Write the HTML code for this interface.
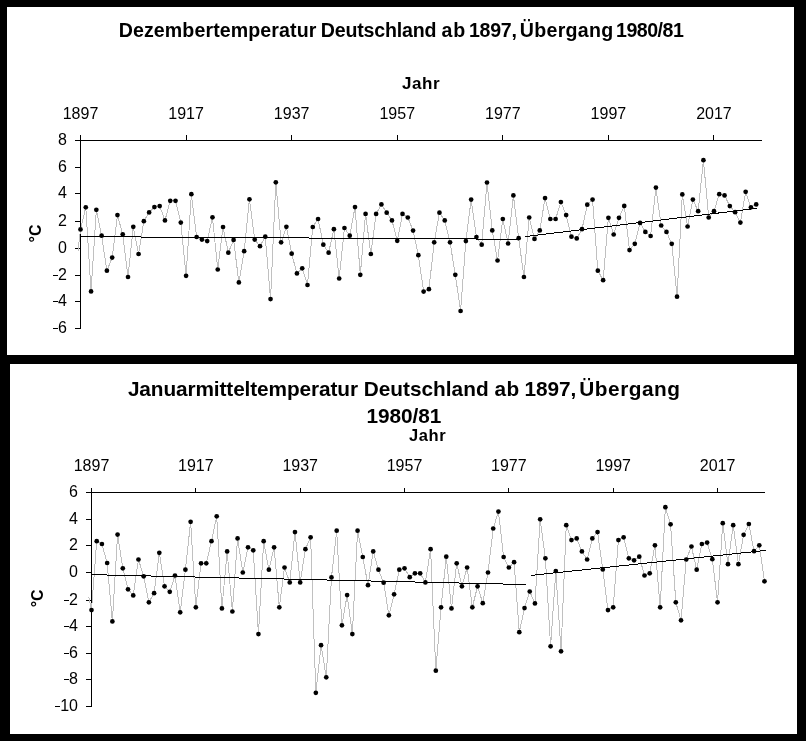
<!DOCTYPE html>
<html><head><meta charset="utf-8"><style>
html,body{margin:0;padding:0;background:#000;}
body{width:806px;height:741px;overflow:hidden;position:relative;}
svg{position:absolute;left:0;top:0;will-change:transform;}
text{font-family:"Liberation Sans", sans-serif;fill:#000;}
</style></head><body>
<svg width="806" height="741" viewBox="0 0 806 741">
<rect x="0" y="0" width="806" height="741" fill="#000"/>
<rect x="7" y="7" width="787" height="348" fill="#fff"/>
<rect x="10" y="364" width="787" height="370" fill="#fff"/>
<text x="118.7" y="37" font-size="19.6" font-weight="bold" letter-spacing="0.1">Dezembertemperatur</text>
<text x="320.8" y="37" font-size="19.6" font-weight="bold" letter-spacing="-0.18">Deutschland</text>
<text x="441.4" y="37" font-size="19.6" font-weight="bold" letter-spacing="1.0">ab</text>
<text x="469" y="37" font-size="19.6" font-weight="bold" letter-spacing="-0.3">1897,</text>
<text x="519.8" y="37" font-size="19.6" font-weight="bold" letter-spacing="0.271">Übergang</text>
<text x="616" y="37" font-size="19.6" font-weight="bold" letter-spacing="-0.5">1980/81</text>
<text x="402" y="89" font-size="17" font-weight="bold" letter-spacing="0.533">Jahr</text>
<text transform="translate(41,233.5) rotate(-90)" text-anchor="middle" font-size="16" font-weight="bold">°C</text>
<g shape-rendering="crispEdges">
<line x1="80.0" y1="140.5" x2="761.5" y2="140.5" stroke="#000" stroke-width="1"/>
<line x1="80.5" y1="135.5" x2="80.5" y2="329.0" stroke="#000" stroke-width="1"/>
<rect x="75.0" y="140" width="5" height="1" fill="#000"/>
<rect x="75.0" y="167" width="5" height="1" fill="#000"/>
<rect x="75.0" y="193" width="5" height="1" fill="#000"/>
<rect x="75.0" y="221" width="5" height="1" fill="#000"/>
<rect x="75.0" y="248" width="5" height="1" fill="#000"/>
<rect x="75.0" y="275" width="5" height="1" fill="#000"/>
<rect x="52.70" y="275" width="5" height="1" fill="#000"/>
<rect x="75.0" y="301" width="5" height="1" fill="#000"/>
<rect x="52.70" y="301" width="5" height="1" fill="#000"/>
<rect x="75.0" y="328" width="5" height="1" fill="#000"/>
<rect x="52.70" y="328" width="5" height="1" fill="#000"/>
<rect x="80" y="135" width="1" height="5" fill="#000"/>
<rect x="186" y="135" width="1" height="5" fill="#000"/>
<rect x="291" y="135" width="1" height="5" fill="#000"/>
<rect x="397" y="135" width="1" height="5" fill="#000"/>
<rect x="502" y="135" width="1" height="5" fill="#000"/>
<rect x="608" y="135" width="1" height="5" fill="#000"/>
<rect x="713" y="135" width="1" height="5" fill="#000"/>
</g>
<text x="67.00" y="145" text-anchor="end" font-size="16">8</text>
<text x="67.00" y="172" text-anchor="end" font-size="16">6</text>
<text x="67.00" y="198" text-anchor="end" font-size="16">4</text>
<text x="67.00" y="226" text-anchor="end" font-size="16">2</text>
<text x="67.00" y="253" text-anchor="end" font-size="16">0</text>
<text x="67.00" y="280" text-anchor="end" font-size="16">2</text>
<text x="67.00" y="306" text-anchor="end" font-size="16">4</text>
<text x="67.00" y="333" text-anchor="end" font-size="16">6</text>
<text x="80.50" y="119" text-anchor="middle" font-size="16">1897</text>
<text x="186.08" y="119" text-anchor="middle" font-size="16">1917</text>
<text x="291.66" y="119" text-anchor="middle" font-size="16">1937</text>
<text x="397.24" y="119" text-anchor="middle" font-size="16">1957</text>
<text x="502.82" y="119" text-anchor="middle" font-size="16">1977</text>
<text x="608.40" y="119" text-anchor="middle" font-size="16">1997</text>
<text x="713.98" y="119" text-anchor="middle" font-size="16">2017</text>
<g shape-rendering="crispEdges" stroke="#c0c0c0" stroke-width="1" fill="none">
<line x1="78.0" y1="251" x2="80.50" y2="229.40"/>
<polyline points="80.50,229.40 85.78,207.30 91.06,291.40 96.34,209.80 101.62,235.70 106.89,270.70 112.17,257.60 117.45,215.10 122.73,234.30 128.01,277.00 133.29,226.80 138.57,254.00 143.85,221.20 149.13,212.40 154.41,207.10 159.69,206.10 164.96,220.40 170.24,200.80 175.52,200.80 180.80,222.60 186.08,275.80 191.36,194.20 196.64,237.00 201.92,239.60 207.20,241.10 212.47,217.30 217.75,269.50 223.03,227.00 228.31,252.70 233.59,239.90 238.87,282.40 244.15,251.20 249.43,199.30 254.71,239.60 259.99,246.20 265.26,236.70 270.54,299.10 275.82,182.30 281.10,242.30 286.38,226.80 291.66,253.70 296.94,273.40 302.22,268.30 307.50,285.00 312.78,227.00 318.06,219.00 323.33,244.70 328.61,252.70 333.89,229.20 339.17,278.50 344.45,228.00 349.73,235.70 355.01,207.10 360.29,274.80 365.57,213.90 370.84,254.00 376.12,213.90 381.40,204.40 386.68,212.70 391.96,220.40 397.24,240.80 402.52,213.90 407.80,217.50 413.08,230.60 418.36,255.20 423.63,291.60 428.91,289.20 434.19,242.30 439.47,212.70 444.75,220.40 450.03,242.30 455.31,274.80 460.59,311.00 465.87,241.10 471.15,199.60 476.43,237.00 481.70,244.70 486.98,182.50 492.26,230.40 497.54,260.50 502.82,219.00 508.10,243.50 513.38,195.40 518.66,238.20 523.94,277.00 529.21,217.50 534.49,238.90 539.77,230.40 545.05,198.10 550.33,219.00 555.61,219.00 560.89,202.00 566.17,215.10 571.45,236.70 576.73,238.40 582.00,229.20 587.28,204.70 592.56,199.60 597.84,270.70 603.12,280.20 608.40,217.80 613.68,234.50 618.96,217.80 624.24,205.90 629.52,250.10 634.79,243.80 640.07,222.90 645.35,231.90 650.63,236.00 655.91,187.60 661.19,225.50 666.47,231.90 671.75,243.80 677.03,296.70 682.31,194.40 687.59,226.50 692.86,199.60 698.14,211.20 703.42,160.20 708.70,217.50 713.98,211.20 719.26,194.20 724.54,195.40 729.82,206.10 735.10,212.20 740.38,222.60 745.65,191.80 750.93,207.30 756.21,204.40"/>
</g>
<line x1="80.5" y1="236.641" x2="519.5" y2="239.270" stroke="#000" stroke-width="1" shape-rendering="crispEdges"/>
<line x1="525" y1="236.577" x2="757" y2="208.319" stroke="#000" stroke-width="1" shape-rendering="crispEdges"/>
<circle cx="80.50" cy="229.40" r="2.35" fill="#000"/>
<circle cx="85.78" cy="207.30" r="2.35" fill="#000"/>
<circle cx="91.06" cy="291.40" r="2.35" fill="#000"/>
<circle cx="96.34" cy="209.80" r="2.35" fill="#000"/>
<circle cx="101.62" cy="235.70" r="2.35" fill="#000"/>
<circle cx="106.89" cy="270.70" r="2.35" fill="#000"/>
<circle cx="112.17" cy="257.60" r="2.35" fill="#000"/>
<circle cx="117.45" cy="215.10" r="2.35" fill="#000"/>
<circle cx="122.73" cy="234.30" r="2.35" fill="#000"/>
<circle cx="128.01" cy="277.00" r="2.35" fill="#000"/>
<circle cx="133.29" cy="226.80" r="2.35" fill="#000"/>
<circle cx="138.57" cy="254.00" r="2.35" fill="#000"/>
<circle cx="143.85" cy="221.20" r="2.35" fill="#000"/>
<circle cx="149.13" cy="212.40" r="2.35" fill="#000"/>
<circle cx="154.41" cy="207.10" r="2.35" fill="#000"/>
<circle cx="159.69" cy="206.10" r="2.35" fill="#000"/>
<circle cx="164.96" cy="220.40" r="2.35" fill="#000"/>
<circle cx="170.24" cy="200.80" r="2.35" fill="#000"/>
<circle cx="175.52" cy="200.80" r="2.35" fill="#000"/>
<circle cx="180.80" cy="222.60" r="2.35" fill="#000"/>
<circle cx="186.08" cy="275.80" r="2.35" fill="#000"/>
<circle cx="191.36" cy="194.20" r="2.35" fill="#000"/>
<circle cx="196.64" cy="237.00" r="2.35" fill="#000"/>
<circle cx="201.92" cy="239.60" r="2.35" fill="#000"/>
<circle cx="207.20" cy="241.10" r="2.35" fill="#000"/>
<circle cx="212.47" cy="217.30" r="2.35" fill="#000"/>
<circle cx="217.75" cy="269.50" r="2.35" fill="#000"/>
<circle cx="223.03" cy="227.00" r="2.35" fill="#000"/>
<circle cx="228.31" cy="252.70" r="2.35" fill="#000"/>
<circle cx="233.59" cy="239.90" r="2.35" fill="#000"/>
<circle cx="238.87" cy="282.40" r="2.35" fill="#000"/>
<circle cx="244.15" cy="251.20" r="2.35" fill="#000"/>
<circle cx="249.43" cy="199.30" r="2.35" fill="#000"/>
<circle cx="254.71" cy="239.60" r="2.35" fill="#000"/>
<circle cx="259.99" cy="246.20" r="2.35" fill="#000"/>
<circle cx="265.26" cy="236.70" r="2.35" fill="#000"/>
<circle cx="270.54" cy="299.10" r="2.35" fill="#000"/>
<circle cx="275.82" cy="182.30" r="2.35" fill="#000"/>
<circle cx="281.10" cy="242.30" r="2.35" fill="#000"/>
<circle cx="286.38" cy="226.80" r="2.35" fill="#000"/>
<circle cx="291.66" cy="253.70" r="2.35" fill="#000"/>
<circle cx="296.94" cy="273.40" r="2.35" fill="#000"/>
<circle cx="302.22" cy="268.30" r="2.35" fill="#000"/>
<circle cx="307.50" cy="285.00" r="2.35" fill="#000"/>
<circle cx="312.78" cy="227.00" r="2.35" fill="#000"/>
<circle cx="318.06" cy="219.00" r="2.35" fill="#000"/>
<circle cx="323.33" cy="244.70" r="2.35" fill="#000"/>
<circle cx="328.61" cy="252.70" r="2.35" fill="#000"/>
<circle cx="333.89" cy="229.20" r="2.35" fill="#000"/>
<circle cx="339.17" cy="278.50" r="2.35" fill="#000"/>
<circle cx="344.45" cy="228.00" r="2.35" fill="#000"/>
<circle cx="349.73" cy="235.70" r="2.35" fill="#000"/>
<circle cx="355.01" cy="207.10" r="2.35" fill="#000"/>
<circle cx="360.29" cy="274.80" r="2.35" fill="#000"/>
<circle cx="365.57" cy="213.90" r="2.35" fill="#000"/>
<circle cx="370.84" cy="254.00" r="2.35" fill="#000"/>
<circle cx="376.12" cy="213.90" r="2.35" fill="#000"/>
<circle cx="381.40" cy="204.40" r="2.35" fill="#000"/>
<circle cx="386.68" cy="212.70" r="2.35" fill="#000"/>
<circle cx="391.96" cy="220.40" r="2.35" fill="#000"/>
<circle cx="397.24" cy="240.80" r="2.35" fill="#000"/>
<circle cx="402.52" cy="213.90" r="2.35" fill="#000"/>
<circle cx="407.80" cy="217.50" r="2.35" fill="#000"/>
<circle cx="413.08" cy="230.60" r="2.35" fill="#000"/>
<circle cx="418.36" cy="255.20" r="2.35" fill="#000"/>
<circle cx="423.63" cy="291.60" r="2.35" fill="#000"/>
<circle cx="428.91" cy="289.20" r="2.35" fill="#000"/>
<circle cx="434.19" cy="242.30" r="2.35" fill="#000"/>
<circle cx="439.47" cy="212.70" r="2.35" fill="#000"/>
<circle cx="444.75" cy="220.40" r="2.35" fill="#000"/>
<circle cx="450.03" cy="242.30" r="2.35" fill="#000"/>
<circle cx="455.31" cy="274.80" r="2.35" fill="#000"/>
<circle cx="460.59" cy="311.00" r="2.35" fill="#000"/>
<circle cx="465.87" cy="241.10" r="2.35" fill="#000"/>
<circle cx="471.15" cy="199.60" r="2.35" fill="#000"/>
<circle cx="476.43" cy="237.00" r="2.35" fill="#000"/>
<circle cx="481.70" cy="244.70" r="2.35" fill="#000"/>
<circle cx="486.98" cy="182.50" r="2.35" fill="#000"/>
<circle cx="492.26" cy="230.40" r="2.35" fill="#000"/>
<circle cx="497.54" cy="260.50" r="2.35" fill="#000"/>
<circle cx="502.82" cy="219.00" r="2.35" fill="#000"/>
<circle cx="508.10" cy="243.50" r="2.35" fill="#000"/>
<circle cx="513.38" cy="195.40" r="2.35" fill="#000"/>
<circle cx="518.66" cy="238.20" r="2.35" fill="#000"/>
<circle cx="523.94" cy="277.00" r="2.35" fill="#000"/>
<circle cx="529.21" cy="217.50" r="2.35" fill="#000"/>
<circle cx="534.49" cy="238.90" r="2.35" fill="#000"/>
<circle cx="539.77" cy="230.40" r="2.35" fill="#000"/>
<circle cx="545.05" cy="198.10" r="2.35" fill="#000"/>
<circle cx="550.33" cy="219.00" r="2.35" fill="#000"/>
<circle cx="555.61" cy="219.00" r="2.35" fill="#000"/>
<circle cx="560.89" cy="202.00" r="2.35" fill="#000"/>
<circle cx="566.17" cy="215.10" r="2.35" fill="#000"/>
<circle cx="571.45" cy="236.70" r="2.35" fill="#000"/>
<circle cx="576.73" cy="238.40" r="2.35" fill="#000"/>
<circle cx="582.00" cy="229.20" r="2.35" fill="#000"/>
<circle cx="587.28" cy="204.70" r="2.35" fill="#000"/>
<circle cx="592.56" cy="199.60" r="2.35" fill="#000"/>
<circle cx="597.84" cy="270.70" r="2.35" fill="#000"/>
<circle cx="603.12" cy="280.20" r="2.35" fill="#000"/>
<circle cx="608.40" cy="217.80" r="2.35" fill="#000"/>
<circle cx="613.68" cy="234.50" r="2.35" fill="#000"/>
<circle cx="618.96" cy="217.80" r="2.35" fill="#000"/>
<circle cx="624.24" cy="205.90" r="2.35" fill="#000"/>
<circle cx="629.52" cy="250.10" r="2.35" fill="#000"/>
<circle cx="634.79" cy="243.80" r="2.35" fill="#000"/>
<circle cx="640.07" cy="222.90" r="2.35" fill="#000"/>
<circle cx="645.35" cy="231.90" r="2.35" fill="#000"/>
<circle cx="650.63" cy="236.00" r="2.35" fill="#000"/>
<circle cx="655.91" cy="187.60" r="2.35" fill="#000"/>
<circle cx="661.19" cy="225.50" r="2.35" fill="#000"/>
<circle cx="666.47" cy="231.90" r="2.35" fill="#000"/>
<circle cx="671.75" cy="243.80" r="2.35" fill="#000"/>
<circle cx="677.03" cy="296.70" r="2.35" fill="#000"/>
<circle cx="682.31" cy="194.40" r="2.35" fill="#000"/>
<circle cx="687.59" cy="226.50" r="2.35" fill="#000"/>
<circle cx="692.86" cy="199.60" r="2.35" fill="#000"/>
<circle cx="698.14" cy="211.20" r="2.35" fill="#000"/>
<circle cx="703.42" cy="160.20" r="2.35" fill="#000"/>
<circle cx="708.70" cy="217.50" r="2.35" fill="#000"/>
<circle cx="713.98" cy="211.20" r="2.35" fill="#000"/>
<circle cx="719.26" cy="194.20" r="2.35" fill="#000"/>
<circle cx="724.54" cy="195.40" r="2.35" fill="#000"/>
<circle cx="729.82" cy="206.10" r="2.35" fill="#000"/>
<circle cx="735.10" cy="212.20" r="2.35" fill="#000"/>
<circle cx="740.38" cy="222.60" r="2.35" fill="#000"/>
<circle cx="745.65" cy="191.80" r="2.35" fill="#000"/>
<circle cx="750.93" cy="207.30" r="2.35" fill="#000"/>
<circle cx="756.21" cy="204.40" r="2.35" fill="#000"/>
<text x="127.9" y="396" font-size="20.8" font-weight="bold" letter-spacing="-0.105">Januarmitteltemperatur</text>
<text x="363.7" y="396" font-size="20.8" font-weight="bold" letter-spacing="0.01">Deutschland</text>
<text x="494.4" y="396" font-size="20.8" font-weight="bold" letter-spacing="0.6">ab</text>
<text x="524.6" y="396" font-size="20.8" font-weight="bold" letter-spacing="-0.075">1897,</text>
<text x="579.3" y="396" font-size="20.8" font-weight="bold" letter-spacing="0.529">Übergang</text>
<text x="366.5" y="423" font-size="20.8" font-weight="bold" letter-spacing="-0.067">1980/81</text>
<text x="409" y="441" font-size="16.5" font-weight="bold" letter-spacing="0.633">Jahr</text>
<text transform="translate(43,598.4) rotate(-90)" text-anchor="middle" font-size="16" font-weight="bold">°C</text>
<g shape-rendering="crispEdges">
<line x1="91.0" y1="492.5" x2="764.5" y2="492.5" stroke="#000" stroke-width="1"/>
<line x1="91.5" y1="488.5" x2="91.5" y2="707.0" stroke="#000" stroke-width="1"/>
<rect x="86.0" y="492" width="5" height="1" fill="#000"/>
<rect x="86.0" y="519" width="5" height="1" fill="#000"/>
<rect x="86.0" y="545" width="5" height="1" fill="#000"/>
<rect x="86.0" y="572" width="5" height="1" fill="#000"/>
<rect x="86.0" y="600" width="5" height="1" fill="#000"/>
<rect x="63.70" y="600" width="5" height="1" fill="#000"/>
<rect x="86.0" y="626" width="5" height="1" fill="#000"/>
<rect x="63.70" y="626" width="5" height="1" fill="#000"/>
<rect x="86.0" y="653" width="5" height="1" fill="#000"/>
<rect x="63.70" y="653" width="5" height="1" fill="#000"/>
<rect x="86.0" y="679" width="5" height="1" fill="#000"/>
<rect x="63.70" y="679" width="5" height="1" fill="#000"/>
<rect x="86.0" y="706" width="5" height="1" fill="#000"/>
<rect x="54.81" y="706" width="5" height="1" fill="#000"/>
<rect x="91" y="488" width="1" height="4" fill="#000"/>
<rect x="195" y="488" width="1" height="4" fill="#000"/>
<rect x="300" y="488" width="1" height="4" fill="#000"/>
<rect x="404" y="488" width="1" height="4" fill="#000"/>
<rect x="508" y="488" width="1" height="4" fill="#000"/>
<rect x="613" y="488" width="1" height="4" fill="#000"/>
<rect x="717" y="488" width="1" height="4" fill="#000"/>
</g>
<text x="78.00" y="497" text-anchor="end" font-size="16">6</text>
<text x="78.00" y="524" text-anchor="end" font-size="16">4</text>
<text x="78.00" y="550" text-anchor="end" font-size="16">2</text>
<text x="78.00" y="577" text-anchor="end" font-size="16">0</text>
<text x="78.00" y="605" text-anchor="end" font-size="16">2</text>
<text x="78.00" y="631" text-anchor="end" font-size="16">4</text>
<text x="78.00" y="658" text-anchor="end" font-size="16">6</text>
<text x="78.00" y="684" text-anchor="end" font-size="16">8</text>
<text x="78.00" y="711" text-anchor="end" font-size="16">10</text>
<text x="91.50" y="471" text-anchor="middle" font-size="16">1897</text>
<text x="195.84" y="471" text-anchor="middle" font-size="16">1917</text>
<text x="300.18" y="471" text-anchor="middle" font-size="16">1937</text>
<text x="404.52" y="471" text-anchor="middle" font-size="16">1957</text>
<text x="508.86" y="471" text-anchor="middle" font-size="16">1977</text>
<text x="613.20" y="471" text-anchor="middle" font-size="16">1997</text>
<text x="717.54" y="471" text-anchor="middle" font-size="16">2017</text>
<g shape-rendering="crispEdges" stroke="#c0c0c0" stroke-width="1" fill="none">
<line x1="88.8" y1="597" x2="91.50" y2="610.10"/>
<polyline points="91.50,610.10 96.72,541.20 101.93,544.00 107.15,563.00 112.37,621.40 117.58,534.60 122.80,568.30 128.02,589.30 133.24,595.40 138.45,559.50 143.67,576.30 148.89,602.30 154.10,593.20 159.32,552.80 164.54,586.30 169.75,591.80 174.97,575.50 180.19,612.30 185.41,569.70 190.62,521.80 195.84,607.30 201.06,563.30 206.27,563.30 211.49,541.20 216.71,516.30 221.92,608.40 227.14,551.40 232.36,611.50 237.58,538.40 242.79,572.50 248.01,547.30 253.23,550.30 258.44,634.10 263.66,541.20 268.88,569.70 274.10,547.30 279.31,607.30 284.53,567.50 289.75,582.40 294.96,532.10 300.18,582.40 305.40,549.20 310.61,537.30 315.83,692.80 321.05,645.20 326.26,677.30 331.48,577.40 336.70,530.70 341.92,625.30 347.13,595.10 352.35,634.10 357.57,530.70 362.78,557.00 368.00,585.20 373.22,551.40 378.44,569.70 383.65,582.70 388.87,615.30 394.09,594.30 399.30,569.70 404.52,568.30 409.74,577.20 414.95,573.30 420.17,573.30 425.39,582.40 430.60,549.20 435.82,670.70 441.04,607.30 446.26,556.70 451.47,608.40 456.69,563.30 461.91,586.30 467.12,567.50 472.34,607.30 477.56,586.30 482.77,603.20 487.99,572.50 493.21,528.50 498.43,511.60 503.64,557.00 508.86,567.50 514.08,562.20 519.29,632.20 524.51,608.10 529.73,591.50 534.94,603.40 540.16,519.30 545.38,558.30 550.60,646.30 555.81,571.10 561.03,651.30 566.25,525.20 571.46,540.10 576.68,538.40 581.90,551.40 587.12,559.50 592.33,538.40 597.55,532.10 602.77,569.40 607.98,610.10 613.20,607.30 618.42,540.10 623.63,537.30 628.85,558.30 634.07,560.30 639.28,556.70 644.50,575.50 649.72,573.30 654.94,545.30 660.15,607.30 665.37,507.20 670.59,524.30 675.80,602.30 681.02,620.30 686.24,559.50 691.45,546.50 696.67,569.70 701.89,544.00 707.11,542.60 712.32,559.20 717.54,602.30 722.76,523.20 727.97,564.20 733.19,525.20 738.41,564.20 743.62,534.80 748.84,524.00 754.06,551.20 759.28,545.30 764.49,581.30"/>
</g>
<line x1="91.5" y1="574.647" x2="525.8" y2="584.518" stroke="#000" stroke-width="1" shape-rendering="crispEdges"/>
<line x1="530.9" y1="575.406" x2="765.7" y2="550.423" stroke="#000" stroke-width="1" shape-rendering="crispEdges"/>
<circle cx="91.50" cy="610.10" r="2.35" fill="#000"/>
<circle cx="96.72" cy="541.20" r="2.35" fill="#000"/>
<circle cx="101.93" cy="544.00" r="2.35" fill="#000"/>
<circle cx="107.15" cy="563.00" r="2.35" fill="#000"/>
<circle cx="112.37" cy="621.40" r="2.35" fill="#000"/>
<circle cx="117.58" cy="534.60" r="2.35" fill="#000"/>
<circle cx="122.80" cy="568.30" r="2.35" fill="#000"/>
<circle cx="128.02" cy="589.30" r="2.35" fill="#000"/>
<circle cx="133.24" cy="595.40" r="2.35" fill="#000"/>
<circle cx="138.45" cy="559.50" r="2.35" fill="#000"/>
<circle cx="143.67" cy="576.30" r="2.35" fill="#000"/>
<circle cx="148.89" cy="602.30" r="2.35" fill="#000"/>
<circle cx="154.10" cy="593.20" r="2.35" fill="#000"/>
<circle cx="159.32" cy="552.80" r="2.35" fill="#000"/>
<circle cx="164.54" cy="586.30" r="2.35" fill="#000"/>
<circle cx="169.75" cy="591.80" r="2.35" fill="#000"/>
<circle cx="174.97" cy="575.50" r="2.35" fill="#000"/>
<circle cx="180.19" cy="612.30" r="2.35" fill="#000"/>
<circle cx="185.41" cy="569.70" r="2.35" fill="#000"/>
<circle cx="190.62" cy="521.80" r="2.35" fill="#000"/>
<circle cx="195.84" cy="607.30" r="2.35" fill="#000"/>
<circle cx="201.06" cy="563.30" r="2.35" fill="#000"/>
<circle cx="206.27" cy="563.30" r="2.35" fill="#000"/>
<circle cx="211.49" cy="541.20" r="2.35" fill="#000"/>
<circle cx="216.71" cy="516.30" r="2.35" fill="#000"/>
<circle cx="221.92" cy="608.40" r="2.35" fill="#000"/>
<circle cx="227.14" cy="551.40" r="2.35" fill="#000"/>
<circle cx="232.36" cy="611.50" r="2.35" fill="#000"/>
<circle cx="237.58" cy="538.40" r="2.35" fill="#000"/>
<circle cx="242.79" cy="572.50" r="2.35" fill="#000"/>
<circle cx="248.01" cy="547.30" r="2.35" fill="#000"/>
<circle cx="253.23" cy="550.30" r="2.35" fill="#000"/>
<circle cx="258.44" cy="634.10" r="2.35" fill="#000"/>
<circle cx="263.66" cy="541.20" r="2.35" fill="#000"/>
<circle cx="268.88" cy="569.70" r="2.35" fill="#000"/>
<circle cx="274.10" cy="547.30" r="2.35" fill="#000"/>
<circle cx="279.31" cy="607.30" r="2.35" fill="#000"/>
<circle cx="284.53" cy="567.50" r="2.35" fill="#000"/>
<circle cx="289.75" cy="582.40" r="2.35" fill="#000"/>
<circle cx="294.96" cy="532.10" r="2.35" fill="#000"/>
<circle cx="300.18" cy="582.40" r="2.35" fill="#000"/>
<circle cx="305.40" cy="549.20" r="2.35" fill="#000"/>
<circle cx="310.61" cy="537.30" r="2.35" fill="#000"/>
<circle cx="315.83" cy="692.80" r="2.35" fill="#000"/>
<circle cx="321.05" cy="645.20" r="2.35" fill="#000"/>
<circle cx="326.26" cy="677.30" r="2.35" fill="#000"/>
<circle cx="331.48" cy="577.40" r="2.35" fill="#000"/>
<circle cx="336.70" cy="530.70" r="2.35" fill="#000"/>
<circle cx="341.92" cy="625.30" r="2.35" fill="#000"/>
<circle cx="347.13" cy="595.10" r="2.35" fill="#000"/>
<circle cx="352.35" cy="634.10" r="2.35" fill="#000"/>
<circle cx="357.57" cy="530.70" r="2.35" fill="#000"/>
<circle cx="362.78" cy="557.00" r="2.35" fill="#000"/>
<circle cx="368.00" cy="585.20" r="2.35" fill="#000"/>
<circle cx="373.22" cy="551.40" r="2.35" fill="#000"/>
<circle cx="378.44" cy="569.70" r="2.35" fill="#000"/>
<circle cx="383.65" cy="582.70" r="2.35" fill="#000"/>
<circle cx="388.87" cy="615.30" r="2.35" fill="#000"/>
<circle cx="394.09" cy="594.30" r="2.35" fill="#000"/>
<circle cx="399.30" cy="569.70" r="2.35" fill="#000"/>
<circle cx="404.52" cy="568.30" r="2.35" fill="#000"/>
<circle cx="409.74" cy="577.20" r="2.35" fill="#000"/>
<circle cx="414.95" cy="573.30" r="2.35" fill="#000"/>
<circle cx="420.17" cy="573.30" r="2.35" fill="#000"/>
<circle cx="425.39" cy="582.40" r="2.35" fill="#000"/>
<circle cx="430.60" cy="549.20" r="2.35" fill="#000"/>
<circle cx="435.82" cy="670.70" r="2.35" fill="#000"/>
<circle cx="441.04" cy="607.30" r="2.35" fill="#000"/>
<circle cx="446.26" cy="556.70" r="2.35" fill="#000"/>
<circle cx="451.47" cy="608.40" r="2.35" fill="#000"/>
<circle cx="456.69" cy="563.30" r="2.35" fill="#000"/>
<circle cx="461.91" cy="586.30" r="2.35" fill="#000"/>
<circle cx="467.12" cy="567.50" r="2.35" fill="#000"/>
<circle cx="472.34" cy="607.30" r="2.35" fill="#000"/>
<circle cx="477.56" cy="586.30" r="2.35" fill="#000"/>
<circle cx="482.77" cy="603.20" r="2.35" fill="#000"/>
<circle cx="487.99" cy="572.50" r="2.35" fill="#000"/>
<circle cx="493.21" cy="528.50" r="2.35" fill="#000"/>
<circle cx="498.43" cy="511.60" r="2.35" fill="#000"/>
<circle cx="503.64" cy="557.00" r="2.35" fill="#000"/>
<circle cx="508.86" cy="567.50" r="2.35" fill="#000"/>
<circle cx="514.08" cy="562.20" r="2.35" fill="#000"/>
<circle cx="519.29" cy="632.20" r="2.35" fill="#000"/>
<circle cx="524.51" cy="608.10" r="2.35" fill="#000"/>
<circle cx="529.73" cy="591.50" r="2.35" fill="#000"/>
<circle cx="534.94" cy="603.40" r="2.35" fill="#000"/>
<circle cx="540.16" cy="519.30" r="2.35" fill="#000"/>
<circle cx="545.38" cy="558.30" r="2.35" fill="#000"/>
<circle cx="550.60" cy="646.30" r="2.35" fill="#000"/>
<circle cx="555.81" cy="571.10" r="2.35" fill="#000"/>
<circle cx="561.03" cy="651.30" r="2.35" fill="#000"/>
<circle cx="566.25" cy="525.20" r="2.35" fill="#000"/>
<circle cx="571.46" cy="540.10" r="2.35" fill="#000"/>
<circle cx="576.68" cy="538.40" r="2.35" fill="#000"/>
<circle cx="581.90" cy="551.40" r="2.35" fill="#000"/>
<circle cx="587.12" cy="559.50" r="2.35" fill="#000"/>
<circle cx="592.33" cy="538.40" r="2.35" fill="#000"/>
<circle cx="597.55" cy="532.10" r="2.35" fill="#000"/>
<circle cx="602.77" cy="569.40" r="2.35" fill="#000"/>
<circle cx="607.98" cy="610.10" r="2.35" fill="#000"/>
<circle cx="613.20" cy="607.30" r="2.35" fill="#000"/>
<circle cx="618.42" cy="540.10" r="2.35" fill="#000"/>
<circle cx="623.63" cy="537.30" r="2.35" fill="#000"/>
<circle cx="628.85" cy="558.30" r="2.35" fill="#000"/>
<circle cx="634.07" cy="560.30" r="2.35" fill="#000"/>
<circle cx="639.28" cy="556.70" r="2.35" fill="#000"/>
<circle cx="644.50" cy="575.50" r="2.35" fill="#000"/>
<circle cx="649.72" cy="573.30" r="2.35" fill="#000"/>
<circle cx="654.94" cy="545.30" r="2.35" fill="#000"/>
<circle cx="660.15" cy="607.30" r="2.35" fill="#000"/>
<circle cx="665.37" cy="507.20" r="2.35" fill="#000"/>
<circle cx="670.59" cy="524.30" r="2.35" fill="#000"/>
<circle cx="675.80" cy="602.30" r="2.35" fill="#000"/>
<circle cx="681.02" cy="620.30" r="2.35" fill="#000"/>
<circle cx="686.24" cy="559.50" r="2.35" fill="#000"/>
<circle cx="691.45" cy="546.50" r="2.35" fill="#000"/>
<circle cx="696.67" cy="569.70" r="2.35" fill="#000"/>
<circle cx="701.89" cy="544.00" r="2.35" fill="#000"/>
<circle cx="707.11" cy="542.60" r="2.35" fill="#000"/>
<circle cx="712.32" cy="559.20" r="2.35" fill="#000"/>
<circle cx="717.54" cy="602.30" r="2.35" fill="#000"/>
<circle cx="722.76" cy="523.20" r="2.35" fill="#000"/>
<circle cx="727.97" cy="564.20" r="2.35" fill="#000"/>
<circle cx="733.19" cy="525.20" r="2.35" fill="#000"/>
<circle cx="738.41" cy="564.20" r="2.35" fill="#000"/>
<circle cx="743.62" cy="534.80" r="2.35" fill="#000"/>
<circle cx="748.84" cy="524.00" r="2.35" fill="#000"/>
<circle cx="754.06" cy="551.20" r="2.35" fill="#000"/>
<circle cx="759.28" cy="545.30" r="2.35" fill="#000"/>
<circle cx="764.49" cy="581.30" r="2.35" fill="#000"/>
</svg>
</body></html>
